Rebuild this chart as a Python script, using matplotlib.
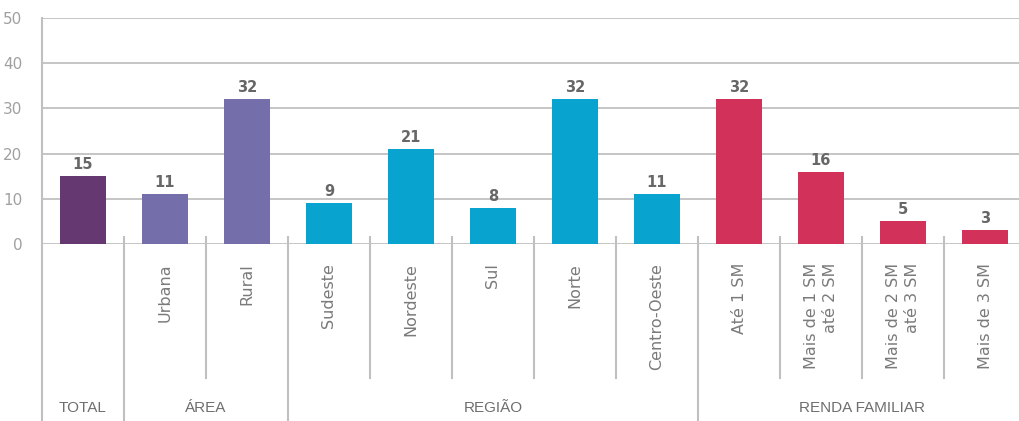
import matplotlib
matplotlib.use("Agg")
import matplotlib.pyplot as plt
from matplotlib.transforms import blended_transform_factory
from matplotlib.lines import Line2D

categories = ["", "Urbana", "Rural", "Sudeste", "Nordeste", "Sul", "Norte",
              "Centro-Oeste", "Até 1 SM", "Mais de 1 SM\naté 2 SM",
              "Mais de 2 SM\naté 3 SM", "Mais de 3 SM"]
values = [15, 11, 32, 9, 21, 8, 32, 11, 32, 16, 5, 3]
groups = ["TOTAL", "ÁREA", "REGIÃO", "RENDA FAMILIAR"]
group_sizes = [1, 2, 5, 4]
group_colors = ["#653872", "#746FAA", "#09A3CF", "#D23259"]
yticks = [0, 10, 20, 30, 40, 50]

W, H = 1019, 421
fig = plt.figure(figsize=(W / 100, H / 100), dpi=100)
x0, ytop, ybase = 42, 18, 244
slot = 82
ax = fig.add_axes([x0 / W, (H - ybase) / H, (W - x0) / W, (ybase - ytop) / H])

colors = []
for c, n in zip(group_colors, group_sizes):
    colors += [c] * n
xs = [i + 0.5 for i in range(len(values))]
ax.bar(xs, values, width=0.56, color=colors, zorder=3)
for x, v in zip(xs, values):
    ax.text(x, v + 0.9, str(v), ha="center", va="bottom", fontsize=10.5,
            fontweight="bold", family="DejaVu Sans", color="#676767")

ax.set_xlim(0, (W - x0) / slot)
ax.set_ylim(0, 50)
ax.set_yticks(yticks)
ax.set_yticklabels([str(t) for t in yticks], fontsize=11, color="#a0a0a0",
                   family="DejaVu Sans")
ax.tick_params(axis="y", length=0, pad=14)
ax.set_xticks([])
ax.grid(axis="y", color="#c0c0c0", linewidth=1.3, zorder=0)
ax.set_axisbelow(True)
for s in ["top", "right", "bottom", "left"]:
    ax.spines[s].set_visible(False)

tr = blended_transform_factory(ax.transData, fig.transFigure)
def fy(p):
    return (H - p) / H

# left axis line
fig.add_artist(Line2D([0, 0], [fy(ytop), fy(H)], transform=tr,
                      color="#c0c0c0", lw=1.5, clip_on=False))

bounds = [0]
for n in group_sizes:
    bounds.append(bounds[-1] + n)
for b in range(1, len(values)):
    bottom = H if b in bounds else 378
    fig.add_artist(Line2D([b, b], [fy(237), fy(bottom)], transform=tr,
                          color="#c0c0c0", lw=1.5, clip_on=False))

for x, lab in zip(xs, categories):
    if lab:
        ax.text(x, fy(263), lab, transform=tr, rotation=90, ha="center",
                va="top", multialignment="right", fontsize=11.5,
                color="#7a7a7a", family="DejaVu Sans", linespacing=1.3)

for g, a, b in zip(groups, bounds[:-1], bounds[1:]):
    ax.text((a + b) / 2, fy(408), g, transform=tr, ha="center", va="center",
            fontsize=11, color="#6e6e6e", family="Liberation Sans")

fig.savefig("out.png", dpi=100)
